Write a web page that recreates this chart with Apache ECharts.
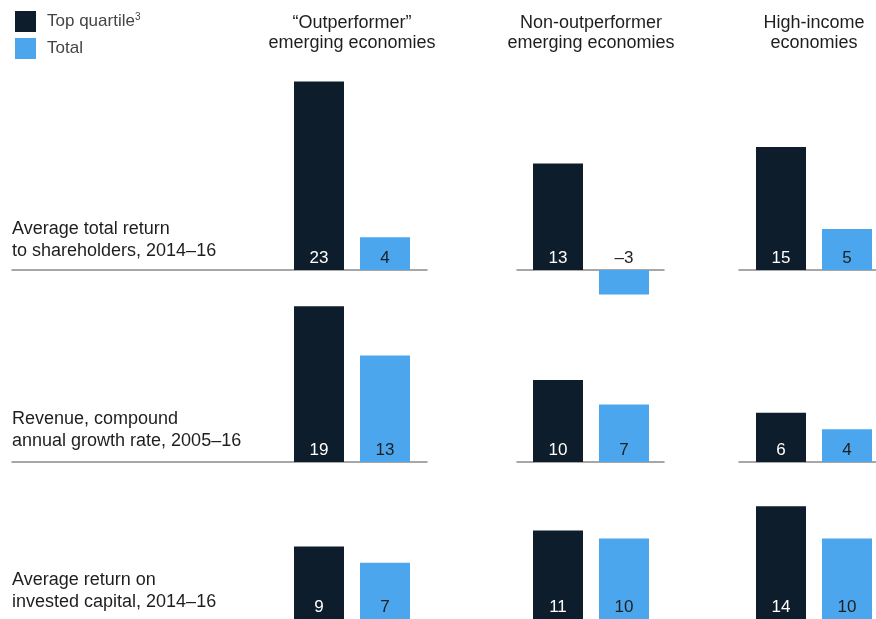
<!DOCTYPE html>
<html>
<head>
<meta charset="utf-8">
<script src="https://cdn.jsdelivr.net/npm/echarts@6/dist/echarts.min.js"></script>
<style>html,body{margin:0;padding:0;background:#fff}#c{width:876px;height:619px}</style>
</head>
<body>
<div id="c"></div>
<script>
var categories = ["Top quartile", "Total"];
var columnTitles = ["\u201cOutperformer\u201d\nemerging economies", "Non-outperformer\nemerging economies", "High-income\neconomies"];
var rowTitles = ["Average total return\nto shareholders, 2014\u201316", "Revenue, compound\nannual growth rate, 2005\u201316", "Average return on\ninvested capital, 2014\u201316"];
var topQuartile = [[23, 13, 15], [19, 10, 6], [9, 11, 14]];
var total = [[4, -3, 5], [13, 7, 4], [7, 10, 10]];

var DARK = "#0d1d2c", BLUE = "#4ba6ee", TXT = "#1e1e1e";
var FONT = "Liberation Sans, Arial, Helvetica, sans-serif";

// layout
var colCenters = [352, 591, 814];
var lineExtents = [[12, 427], [517, 664], [739, 876]];
var rowLayout = [
  {top: 65, bottom: 308, min: -5, max: 25, line: true},
  {top: 298, bottom: 157, min: 0, max: 20, line: true},
  {top: 458, bottom: -3, min: 0, max: 20, line: false}
];
var rowTitleTops = [218, 408, 569];

var grid = [], xAxis = [], yAxis = [], series = [], title = [];

columnTitles.forEach(function (t, c) {
  title.push({text: t, left: colCenters[c], top: 13, textAlign: "center", padding: 0,
    textStyle: {fontFamily: FONT, fontSize: 18, fontWeight: "normal", color: TXT, lineHeight: 20}});
});
rowTitles.forEach(function (t, r) {
  title.push({text: t, left: 12, top: rowTitleTops[r], padding: 0,
    textStyle: {fontFamily: FONT, fontSize: 18, fontWeight: "normal", color: TXT, lineHeight: 22}});
});

function fmt(p) { return String(p.value).replace("-", "\u2013"); }

for (var r = 0; r < 3; r++) {
  var L = rowLayout[r];
  for (var c = 0; c < 3; c++) {
    if (L.line) {
      var gi = grid.length;
      grid.push({left: lineExtents[c][0], width: lineExtents[c][1] - lineExtents[c][0], top: L.top, bottom: L.bottom});
      xAxis.push({gridIndex: gi, type: "value", min: 0, max: 1, show: true,
        axisLine: {show: true, onZero: true, lineStyle: {color: "#8a8a8a", width: 1.5}},
        axisTick: {show: false}, axisLabel: {show: false}, splitLine: {show: false}});
      yAxis.push({gridIndex: gi, type: "value", min: L.min, max: L.max, show: false});
    }
    var bi = grid.length;
    grid.push({left: colCenters[c] - 60, width: 120, top: L.top, bottom: L.bottom});
    xAxis.push({gridIndex: bi, type: "category", data: [columnTitles[c]], show: false});
    yAxis.push({gridIndex: bi, type: "value", min: L.min, max: L.max, show: false});
    var tv = topQuartile[r][c], bv = total[r][c];
    series.push({name: categories[0], type: "bar", xAxisIndex: bi, yAxisIndex: bi,
      barWidth: 50, barGap: "32%", itemStyle: {color: DARK}, z: 1,
      label: {show: true, position: "insideBottom", distance: 3, color: "#fff", fontFamily: FONT, fontSize: 17, formatter: fmt},
      data: [tv]});
    series.push({name: categories[1], type: "bar", xAxisIndex: bi, yAxisIndex: bi,
      barWidth: 50, barGap: "32%", itemStyle: {color: BLUE}, z: 1,
      label: {show: true, position: bv < 0 ? "top" : "insideBottom", distance: bv < 0 ? 3 : 3, color: TXT, fontFamily: FONT, fontSize: 17, formatter: fmt},
      data: [bv]});
  }
}

var chart = echarts.init(document.getElementById("c"), null, {renderer: "canvas"});
chart.setOption({
  animation: false,
  backgroundColor: "#fff",
  title: title,
  legend: {
    data: categories, orient: "vertical", left: 10, top: 6, itemWidth: 21, itemHeight: 21, itemGap: 6,
    icon: "rect", selectedMode: false,
    formatter: function (n) { return n === "Top quartile" ? "{a|Top quartile}{s|3}" : "{a|" + n + "}"; },
    textStyle: {fontFamily: FONT, fontSize: 17, color: "#444", padding: [0, 0, 0, 6],
      rich: {a: {fontFamily: FONT, fontSize: 17, color: "#444"}, s: {fontFamily: FONT, fontSize: 10, color: "#444", verticalAlign: "top", padding: [0, 0, 8, 0]}}}
  },
  grid: grid, xAxis: xAxis, yAxis: yAxis, series: series
});
</script>
</body>
</html>
